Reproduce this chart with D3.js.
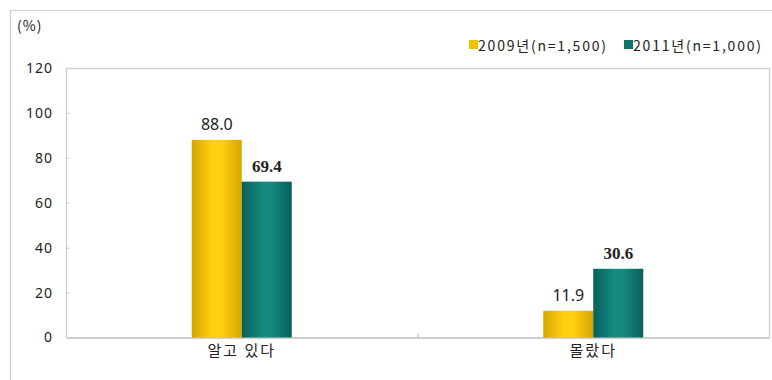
<!DOCTYPE html>
<html>
<head>
<meta charset="utf-8">
<script src="https://cdn.jsdelivr.net/npm/d3@7"></script>
<style>
  html, body { margin: 0; padding: 0; background: #fff; }
  svg { display: block; }
  text { font-family: "Noto Sans CJK KR", "Noto Sans", sans-serif; fill: #222; }
</style>
</head>
<body>
<svg id="chart" width="772" height="380"></svg>
<script>
// Awareness survey: 2009 vs 2011
const categories = ["알고 있다", "몰랐다"];
const seriesNames = ["2009년(n=1,500)", "2011년(n=1,000)"];
const values2009 = [88.0, 11.9];
const values2011 = [69.4, 30.6];
const yTicks = [0, 20, 40, 60, 80, 100, 120];

const svg = d3.select("#chart");
const W = 772, H = 380;
const plot = { left: 66, right: 769, top: 68, bottom: 337.5 };

// outer frame (top and left edges visible)
svg.append("path")
  .attr("d", `M10.5,${H} V10.5 H${W}`)
  .attr("fill", "none").attr("stroke", "#cfcfcf").attr("stroke-width", 1.2);

const defs = svg.append("defs");
function barGradient(id, edge, mid) {
  const g = defs.append("linearGradient").attr("id", id)
    .attr("x1", "0%").attr("x2", "100%").attr("y1", "0%").attr("y2", "0%");
  g.append("stop").attr("offset", "0%").attr("stop-color", edge);
  g.append("stop").attr("offset", "40%").attr("stop-color", mid);
  g.append("stop").attr("offset", "60%").attr("stop-color", mid);
  g.append("stop").attr("offset", "100%").attr("stop-color", edge);
}
barGradient("g2009", "#d3a700", "#ffcf10");
barGradient("g2011", "#0a5f5c", "#14897f");

const x0 = d3.scaleBand().domain(categories).range([plot.left, plot.right]).padding(0);
const x1 = d3.scaleBand().domain(seriesNames)
  .range([x0.bandwidth() / 2 - 50, x0.bandwidth() / 2 + 50]).padding(0);
const y = d3.scaleLinear().domain([0, 120]).range([plot.bottom, plot.top]);

// plot area box
svg.append("rect")
  .attr("x", plot.left + 0.5).attr("y", plot.top + 0.5)
  .attr("width", plot.right - plot.left).attr("height", plot.bottom - plot.top)
  .attr("fill", "none").attr("stroke", "#cccccc").attr("stroke-width", 1.2);

// y axis
const yAxis = svg.append("g").attr("transform", `translate(${plot.left},0)`)
  .call(d3.axisLeft(y).tickValues(yTicks).tickSize(0).tickPadding(13));
yAxis.select(".domain").remove();
yAxis.selectAll("text").style("font-size", "14px").attr("fill", "#222")
  .style("letter-spacing", "1px")
  .style("font-family", "'Noto Sans', sans-serif");
svg.append("g").selectAll("line").data(yTicks.slice(1, -1)).join("line")
  .attr("x1", plot.left + 1).attr("x2", plot.left + 4)
  .attr("y1", d => y(d) + 0.5).attr("y2", d => y(d) + 0.5)
  .attr("stroke", "#cccccc");

// x axis
const xAxis = svg.append("g").attr("transform", `translate(0,${plot.bottom})`)
  .call(d3.axisBottom(x0).tickSize(0).tickPadding(8));
xAxis.select(".domain").attr("stroke", "#c8c8c8").attr("stroke-width", 1.5);
xAxis.selectAll("text").style("font-size", "15px").style("letter-spacing", "2px")
  .attr("fill", "#222");
svg.append("line")
  .attr("x1", x0(categories[1]) + 0.5).attr("x2", x0(categories[1]) + 0.5)
  .attr("y1", plot.bottom - 4).attr("y2", plot.bottom)
  .attr("stroke", "#aaaaaa");

// bars
const rows = categories.map((c, i) => ({ cat: c, vals: [values2009[i], values2011[i]] }));
const groups = svg.append("g").selectAll("g").data(rows).join("g")
  .attr("transform", d => `translate(${x0(d.cat)},0)`);

groups.selectAll("rect").data(d => d.vals.map((v, j) => ({ v, j })))
  .join("rect")
  .attr("x", d => x1(seriesNames[d.j]))
  .attr("width", x1.bandwidth())
  .attr("y", d => y(d.v))
  .attr("height", d => y(0) - y(d.v))
  .attr("fill", d => d.j === 0 ? "url(#g2009)" : "url(#g2011)");

// value labels
groups.selectAll("text.val").data(d => d.vals.map((v, j) => ({ v, j })))
  .join("text").attr("class", "val")
  .attr("x", d => x1(seriesNames[d.j]) + x1.bandwidth() / 2)
  .attr("y", d => y(d.v) - 10)
  .attr("text-anchor", "middle")
  .style("font-size", d => d.j === 0 ? "16px" : "17px")
  .style("font-weight", d => d.j === 0 ? "normal" : "bold")
  .style("font-family", d => d.j === 0 ? "'Noto Sans', sans-serif" : "'Liberation Serif', serif")
  .text(d => d.v.toFixed(1));

// unit label
svg.append("text").attr("x", 17).attr("y", 31)
  .style("font-size", "14px").style("letter-spacing", "1px").text("(%)");

// legend
const legendColors = ["#f2c300", "#0e746c"];
const legendX = [469, 624];
const lg = svg.append("g").selectAll("g").data(seriesNames).join("g")
  .attr("transform", (d, i) => `translate(${legendX[i]},45)`);
lg.append("rect").attr("x", 0).attr("y", -5).attr("width", 9).attr("height", 9)
  .attr("fill", (d, i) => legendColors[i]);
lg.append("text").attr("x", 9).attr("y", 6)
  .style("font-size", "14px")
  .attr("textLength", 128).attr("lengthAdjust", "spacing")
  .text(d => d);
</script>
</body>
</html>
